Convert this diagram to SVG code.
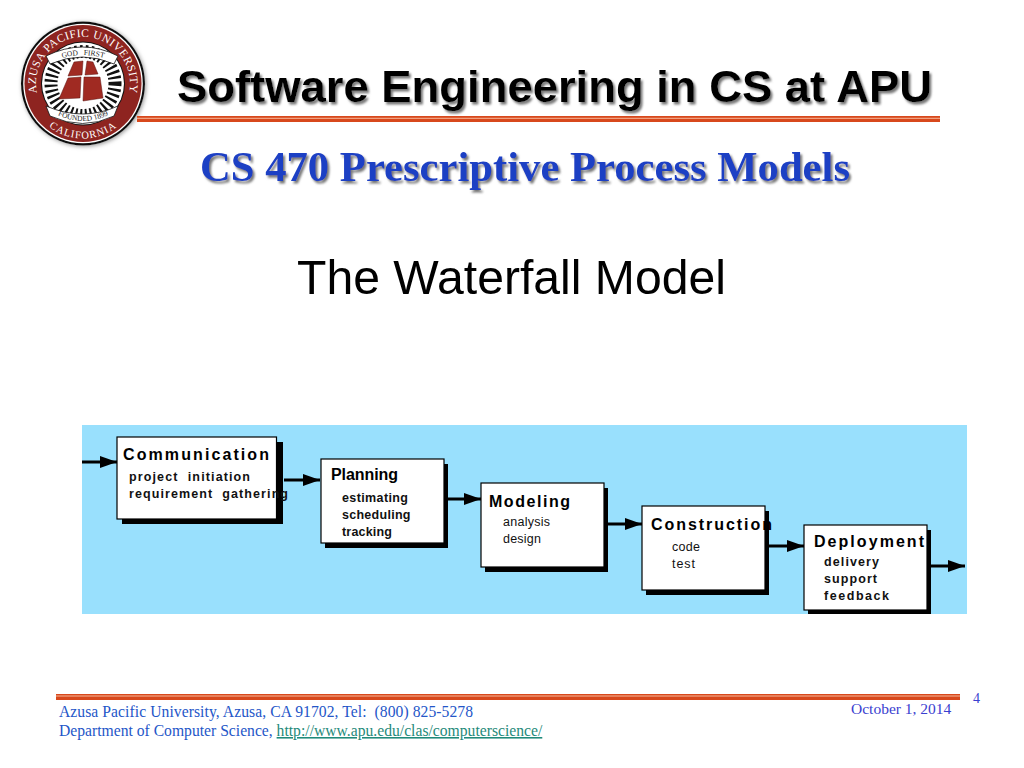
<svg xmlns="http://www.w3.org/2000/svg" xmlns:xlink="http://www.w3.org/1999/xlink" width="1024" height="768" viewBox="0 0 1024 768">
<style>
text{white-space:pre}
.box{fill:#fff;stroke:#000;stroke-width:1.2}
.sh{fill:#000}
.h{font:bold 16px "Liberation Sans",Arial,sans-serif;fill:#000}
.s{font:bold 12.5px "Liberation Sans",Arial,sans-serif;fill:#111}
.n{font:12.5px "Liberation Sans",Arial,sans-serif;fill:#111}
.f{font:15.65px "Liberation Serif","Times New Roman",serif;fill:#2456c8}
.c{stroke:#000;stroke-width:3;fill:none;marker-end:url(#a)}
.seal{font-family:"Liberation Serif","Times New Roman",serif;fill:#fff}
.ban{font-family:"Liberation Serif","Times New Roman",serif;font-size:7.5px;fill:#222}
</style>
<defs>
<marker id="a" markerUnits="userSpaceOnUse" markerWidth="18" markerHeight="12" refX="17" refY="6" orient="auto"><path d="M0 0L17 6L0 12Z" fill="#000"/></marker>
<filter id="ds" x="-5%" y="-20%" width="110%" height="150%"><feDropShadow dx="2" dy="2.5" stdDeviation="1" flood-color="#777"/></filter>
<filter id="lg" x="-10%" y="-10%" width="120%" height="120%"><feDropShadow dx="1" dy="1" stdDeviation="2" flood-color="#999"/></filter>
<path id="top" d="M41 105A47 47 0 1 1 125 105"/>
<path id="bot" d="M28 83.500A55 55 0 0 0 138 83.500"/>
<path id="bt" d="M56 60Q83 50 110 60"/>
<path id="bb" d="M54 113Q83 129 112 113"/>
</defs>
<rect width="1024" height="768" fill="#fff"/>

<g id="logo">
<circle cx="83" cy="83.500" r="62" fill="#111" filter="url(#lg)"/>
<circle cx="83" cy="83.500" r="59.800" fill="#fff"/>
<circle cx="83" cy="83.500" r="58.500" fill="#8e2420"/>
<circle cx="83" cy="83.500" r="42" fill="#111"/>
<circle cx="83" cy="83.500" r="41" fill="#fff"/>
<circle cx="83" cy="83.500" r="32" fill="none" stroke="#111" stroke-width="13" stroke-dasharray="2.300 2.800"/>
<text class="seal" font-size="11.500" letter-spacing="0.4"><textPath xlink:href="#top" startOffset="50%" text-anchor="middle">AZUSA PACIFIC UNIVERSITY</textPath></text>
<text class="seal" font-size="10.500" letter-spacing="1"><textPath xlink:href="#bot" startOffset="50%" text-anchor="middle">CALIFORNIA</textPath></text>
<path d="M46 56Q83 38 118 56L114 64Q83 50 50 64Z" fill="#fff" stroke="#111" stroke-width=".8"/>
<text class="ban"><textPath xlink:href="#bt" startOffset="50%" text-anchor="middle">GOD   FIRST</textPath></text>
<path d="M46 106Q83 122 118 106L114 116Q83 131 50 116Z" fill="#fff" stroke="#111" stroke-width=".8"/>
<text class="ban"><textPath xlink:href="#bb" startOffset="50%" text-anchor="middle">FOUNDED 1899</textPath></text>
<path d="M74 62L83 61L82 75L68 76ZM87 61L93 62L98 74L85 75ZM68 78L81 77L80 98L59 99ZM84 77L100 77L103 98L83 101Z" fill="#a02a22" stroke="#5a1210" stroke-width=".5"/>
</g>

<g id="header">
<rect x="137" y="116" width="803" height="6" fill="#d8481c"/>
<rect x="137" y="117.800" width="803" height="1" fill="#f6b79a"/>
<text x="177" y="102" font-family="Liberation Sans,Arial,sans-serif" font-weight="bold" font-size="45" textLength="755" lengthAdjust="spacingAndGlyphs" fill="#000" filter="url(#ds)">Software Engineering in CS at APU</text>
<text x="200" y="181" font-family="Liberation Serif,Times New Roman,serif" font-weight="bold" font-size="43" textLength="650" lengthAdjust="spacingAndGlyphs" fill="#1d3fc4" filter="url(#ds)">CS 470 Prescriptive Process Models</text>
<text x="297" y="294" font-family="Liberation Sans,Arial,sans-serif" font-size="48" textLength="429" lengthAdjust="spacingAndGlyphs" fill="#000">The Waterfall Model</text>
</g>

<rect id="panel" x="82" y="425" width="885" height="189" fill="#99e0fd"/>

<g id="connectors">
<path class="c" d="M82 462H117"/>
<path class="c" d="M284 480H320"/>
<path class="c" d="M448 499H481"/>
<path class="c" d="M608 524H642"/>
<path class="c" d="M769 546H804"/>
<path class="c" d="M931 566H965"/>
</g>

<g id="communication">
<rect class="sh" x="122" y="442" width="161" height="82"/>
<rect class="box" x="117" y="437" width="159.500" height="82"/>
<text class="h" x="123" y="460" textLength="146">Communication</text>
<text class="s" x="129" y="481" textLength="121">project  initiation</text>
<text class="s" x="129" y="498" textLength="159">requirement  gathering</text>
</g>
<g id="planning">
<rect class="sh" x="325" y="464" width="123" height="84"/>
<rect class="box" x="321" y="459" width="123" height="84"/>
<text class="h" x="331" y="480" textLength="67">Planning</text>
<text class="s" x="342" y="502" textLength="66">estimating</text>
<text class="s" x="342" y="519" textLength="68.500">scheduling</text>
<text class="s" x="342" y="536" textLength="50">tracking</text>
</g>
<g id="modeling">
<rect class="sh" x="485" y="488" width="123" height="84"/>
<rect class="box" x="481" y="483" width="123" height="84"/>
<text class="h" x="489" y="507" textLength="81">Modeling</text>
<text class="n" x="503" y="526" textLength="47">analysis</text>
<text class="n" x="503" y="543" textLength="38">design</text>
</g>
<g id="construction">
<rect class="sh" x="646" y="511" width="123" height="84"/>
<rect class="box" x="642" y="506" width="123" height="84"/>
<text class="h" x="651" y="530" textLength="121">Construction</text>
<text class="n" x="672" y="551" textLength="28">code</text>
<text class="n" x="672" y="568" textLength="23">test</text>
</g>
<g id="deployment">
<rect class="sh" x="808" y="530" width="123" height="84"/>
<rect class="box" x="804" y="525" width="123" height="85"/>
<text class="h" x="814" y="547" textLength="110">Deployment</text>
<text class="s" x="824" y="566" textLength="55">delivery</text>
<text class="s" x="824" y="583" textLength="53">support</text>
<text class="s" x="824" y="600" textLength="65">feedback</text>
</g>

<g id="footer">
<rect x="56" y="694" width="904" height="6" fill="#d8481c"/>
<rect x="56" y="695.500" width="904" height="1" fill="#f6b79a"/>
<text class="f" x="59" y="717" textLength="414">Azusa Pacific University, Azusa, CA 91702, Tel:  (800) 825-5278</text>
<text class="f" x="59" y="736">Department of Computer Science, <tspan fill="#1f8a7a" text-decoration="underline">http://www.apu.edu/clas/computerscience/</tspan></text>
<text x="851" y="714" font-family="Liberation Serif,serif" font-size="15.500" fill="#3a3fd0">October 1, 2014</text>
<text x="973" y="703" font-family="Liberation Serif,serif" font-size="14" fill="#3a3fd0">4</text>
</g>
</svg>
